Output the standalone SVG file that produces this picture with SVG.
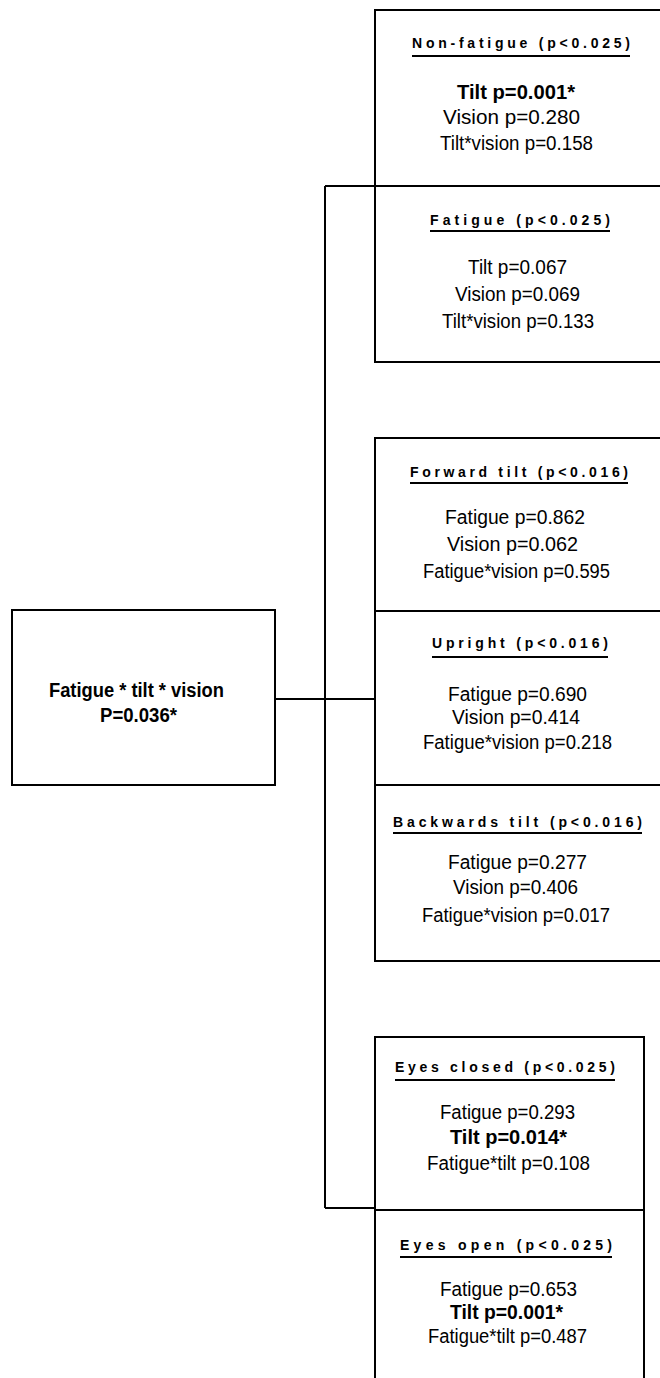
<svg xmlns="http://www.w3.org/2000/svg" width="660" height="1378" viewBox="0 0 660 1378">
<style>
.box{fill:#fff;stroke:#000;stroke-width:2}
.conn{fill:none;stroke:#000;stroke-width:2}
.title{font-family:"Liberation Sans",Arial,sans-serif;font-weight:bold;font-size:14px;fill:#000}
.ul{stroke:#000;stroke-width:2}
.t{font-family:"Liberation Sans",Arial,sans-serif;font-size:20px;fill:#000}
.b{font-family:"Liberation Sans",Arial,sans-serif;font-size:20px;font-weight:bold;fill:#000}
</style>
<rect width="660" height="1378" fill="#fff"/>
<g id="connectors">
<path class="conn" d="M275,699 H375"/>
<path class="conn" d="M325,186 V1208"/>
<path class="conn" d="M325,186 H375"/>
<path class="conn" d="M325,1208 H375"/>
</g>
<g id="root">
<rect class="box" x="12" y="610" width="263" height="175"/>
<text class="b" x="49" y="697" textLength="175" lengthAdjust="spacingAndGlyphs">Fatigue * tilt * vision</text>
<text class="b" x="100" y="722" textLength="77" lengthAdjust="spacingAndGlyphs">P=0.036*</text>
</g>
<g id="non-fatigue">
<rect class="box" x="375" y="10" width="300" height="176"/>
<text class="title" x="412" y="48" textLength="218" lengthAdjust="spacing">Non-fatigue (p&lt;0.025)</text>
<line class="ul" x1="412" y1="56" x2="630" y2="56"/>
<text class="b" x="457" y="99" textLength="118" lengthAdjust="spacingAndGlyphs">Tilt  p=0.001*</text>
<text class="t" x="443" y="124" textLength="137" lengthAdjust="spacingAndGlyphs">Vision  p=0.280</text>
<text class="t" x="440" y="150" textLength="153" lengthAdjust="spacingAndGlyphs">Tilt*vision  p=0.158</text>
</g>
<g id="fatigue">
<rect class="box" x="375" y="186" width="300" height="176"/>
<text class="title" x="430" y="225" textLength="180" lengthAdjust="spacing">Fatigue (p&lt;0.025)</text>
<line class="ul" x1="430" y1="231" x2="610" y2="231"/>
<text class="t" x="468" y="274" textLength="99" lengthAdjust="spacingAndGlyphs">Tilt  p=0.067</text>
<text class="t" x="455" y="301" textLength="125" lengthAdjust="spacingAndGlyphs">Vision  p=0.069</text>
<text class="t" x="442" y="328" textLength="152" lengthAdjust="spacingAndGlyphs">Tilt*vision  p=0.133</text>
</g>
<g id="forward-tilt">
<rect class="box" x="375" y="438" width="300" height="173"/>
<text class="title" x="410" y="477" textLength="218" lengthAdjust="spacing">Forward tilt (p&lt;0.016)</text>
<line class="ul" x1="410" y1="483" x2="628" y2="483"/>
<text class="t" x="445" y="524" textLength="140" lengthAdjust="spacingAndGlyphs">Fatigue  p=0.862</text>
<text class="t" x="447" y="551" textLength="131" lengthAdjust="spacingAndGlyphs">Vision  p=0.062</text>
<text class="t" x="423" y="578" textLength="187" lengthAdjust="spacingAndGlyphs">Fatigue*vision  p=0.595</text>
</g>
<g id="upright">
<rect class="box" x="375" y="611" width="300" height="174"/>
<text class="title" x="432" y="648" textLength="176" lengthAdjust="spacing">Upright (p&lt;0.016)</text>
<line class="ul" x1="432" y1="657" x2="608" y2="657"/>
<text class="t" x="448" y="701" textLength="139" lengthAdjust="spacingAndGlyphs">Fatigue  p=0.690</text>
<text class="t" x="452" y="724" textLength="128" lengthAdjust="spacingAndGlyphs">Vision  p=0.414</text>
<text class="t" x="423" y="749" textLength="189" lengthAdjust="spacingAndGlyphs">Fatigue*vision  p=0.218</text>
</g>
<g id="backwards-tilt">
<rect class="box" x="375" y="785" width="300" height="176"/>
<text class="title" x="393" y="827" textLength="249" lengthAdjust="spacing">Backwards tilt (p&lt;0.016)</text>
<line class="ul" x1="393" y1="833" x2="642" y2="833"/>
<text class="t" x="448" y="869" textLength="139" lengthAdjust="spacingAndGlyphs">Fatigue  p=0.277</text>
<text class="t" x="453" y="894" textLength="125" lengthAdjust="spacingAndGlyphs">Vision  p=0.406</text>
<text class="t" x="422" y="922" textLength="188" lengthAdjust="spacingAndGlyphs">Fatigue*vision  p=0.017</text>
</g>
<g id="eyes-closed">
<rect class="box" x="375" y="1037" width="269" height="173"/>
<text class="title" x="395" y="1072" textLength="220" lengthAdjust="spacing">Eyes closed (p&lt;0.025)</text>
<line class="ul" x1="395" y1="1080" x2="615" y2="1080"/>
<text class="t" x="440" y="1119" textLength="135" lengthAdjust="spacingAndGlyphs">Fatigue  p=0.293</text>
<text class="b" x="450" y="1144" textLength="117" lengthAdjust="spacingAndGlyphs">Tilt  p=0.014*</text>
<text class="t" x="427" y="1170" textLength="163" lengthAdjust="spacingAndGlyphs">Fatigue*tilt  p=0.108</text>
</g>
<g id="eyes-open">
<rect class="box" x="375" y="1210" width="269" height="175"/>
<text class="title" x="400" y="1250" textLength="212" lengthAdjust="spacing">Eyes open (p&lt;0.025)</text>
<line class="ul" x1="400" y1="1257" x2="612" y2="1257"/>
<text class="t" x="440" y="1296" textLength="137" lengthAdjust="spacingAndGlyphs">Fatigue  p=0.653</text>
<text class="b" x="450" y="1319" textLength="113" lengthAdjust="spacingAndGlyphs">Tilt  p=0.001*</text>
<text class="t" x="428" y="1343" textLength="159" lengthAdjust="spacingAndGlyphs">Fatigue*tilt  p=0.487</text>
</g>
</svg>
